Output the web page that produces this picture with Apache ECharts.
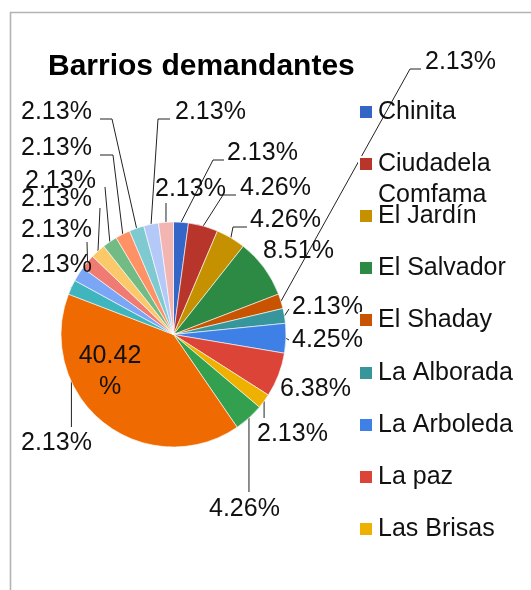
<!DOCTYPE html>
<html>
<head>
<meta charset="utf-8">
<title>Barrios demandantes</title>
<script src="https://cdn.jsdelivr.net/npm/echarts@6/dist/echarts.min.js"></script>
<style>
  html, body { margin: 0; padding: 0; background: #fff; }
  #chart { width: 531px; height: 590px; }
</style>
</head>
<body>
<div id="chart"></div>
<script>
// datos (porcentajes tal como aparecen en las etiquetas)
const barrios = ['Chinita', 'Ciudadela Comfama', 'El Jardín', 'El Salvador', 'El Shaday', 'La Alborada',
  'La Arboleda', 'La paz', 'Las Brisas', 'Barrio 10', 'Barrio 11', 'Barrio 12', 'Barrio 13', 'Barrio 14',
  'Barrio 15', 'Barrio 16', 'Barrio 17', 'Barrio 18', 'Barrio 19', 'Barrio 20']
const porcentajes = [2.13, 4.26, 4.26, 8.51, 2.13, 2.13, 4.25, 6.38, 2.13, 4.26,
  40.42, 2.13, 2.13, 2.13, 2.13, 2.13, 2.13, 2.13, 2.13, 2.13]
// solo se ven las primeras entradas de la leyenda (el resto queda cortado)
const leyendaVisible = barrios.slice(0, 9)

const colores = ['#3366c6', '#b7352b', '#c69100', '#2d8a45', '#c85300', '#36969b', '#3f80e6', '#db4437',
  '#efb100', '#33a04f', '#ef6a00', '#40b5bd', '#7ba6f6', '#ef7b73', '#fcc96a', '#72bb85', '#ff9166',
  '#7fc9d1', '#b5c9f8', '#f3b5b1']

const FUENTE = "'Liberation Sans', Arial, sans-serif"
const CX = 173.5
const CY = 334.5
const R = 112.5

// colocación de las etiquetas (x izquierda, y centro) y codos de las líneas guía
// null en el codo = misma x que el borde de la porción
const etiquetas = [
  { x: 227, y: 153, codos: [[213, 160], [224, 160]] },
  { x: 240, y: 188, codos: [[223, 195], [236, 195]] },
  { x: 250, y: 220, codos: [[233, 227], [247, 227]] },
  { x: 263, y: 251 },
  { x: 425, y: 62, codos: [[410, 69], [421, 69]] },
  { x: 292, y: 307, codos: [[289, 309]] },
  { x: 292, y: 340, codos: [[289, 340]] },
  { x: 280, y: 389 },
  { x: 257, y: 434, codos: [[null, 418]] },
  { x: 209, y: 509, codos: [[null, 492]] },
  { x: 110, y: 372, align: 'center' },
  { x: 21, y: 443, codos: [[null, 427]] },
  { x: 21, y: 265 },
  { x: 21, y: 230, codos: [[87, 242]] },
  { x: 21, y: 199, codos: [[100, 208]] },
  { x: 25, y: 181, codos: [[105, 187]] },
  { x: 21, y: 148, codos: [[113, 155], [100, 155]] },
  { x: 21, y: 112, codos: [[112, 119], [100, 119]] },
  { x: 175, y: 112, codos: [[158, 119], [170, 119]] },
  { x: 155, y: 189, codos: [[166, 203]] }
]
// centro vertical de cada fila de la leyenda
const filasLeyenda = [112, 164, 216, 268, 320, 373, 425, 477, 529]

const total = porcentajes.reduce((a, b) => a + b, 0)
const bordes = porcentajes.map((v, i) => {
  const antes = porcentajes.slice(0, i).reduce((a, b) => a + b, 0)
  const ang = (antes + v / 2) / total * 2 * Math.PI
  return [CX + R * Math.sin(ang), CY - R * Math.cos(ang)]
})
const mayor = porcentajes.indexOf(Math.max(...porcentajes))

const myChart = echarts.init(document.getElementById('chart'), null, { renderer: 'canvas' })

const textoLeyenda = {
  fontSize: 25,
  color: '#111',
  fontFamily: FUENTE
}

const option = {
  animation: false,
  color: colores,
  title: {
    text: 'Barrios demandantes',
    left: 43,
    top: 47,
    textStyle: {
      fontSize: 30,
      fontWeight: 'bold',
      color: '#000',
      fontFamily: FUENTE
    }
  },
  graphic: [{
    type: 'rect',
    shape: { x: 10.5, y: 12.5, width: 1000, height: 1000 },
    style: { fill: 'none', stroke: '#b3b3b3', lineWidth: 1.6 },
    silent: true
  }],
  legend: leyendaVisible.map((nombre, i) => {
    // el nombre largo ocupa dos líneas y se monta sobre la fila siguiente
    const dosLineas = nombre === 'Ciudadela Comfama'
    return {
      data: [nombre],
      orient: 'vertical',
      left: 353,
      top: dosLineas ? filasLeyenda[i] - 51.5 : filasLeyenda[i] - 17.5,
      icon: 'rect',
      itemWidth: 14,
      itemHeight: 14,
      itemGap: 0,
      formatter: (n) => dosLineas ? '\nCiudadela\nComfama' : n,
      textStyle: dosLineas ? Object.assign({ lineHeight: 31 }, textoLeyenda) : textoLeyenda
    }
  }),
  series: [{
    type: 'pie',
    center: [CX, CY],
    radius: R,
    startAngle: 90,
    clockwise: true,
    avoidLabelOverlap: false,
    itemStyle: {
      borderColor: '#ffffff',
      borderWidth: 0.6
    },
    emphasis: { scale: false },
    label: {
      show: true,
      position: 'outside',
      fontSize: 25,
      lineHeight: 31,
      color: '#111',
      fontFamily: FUENTE,
      formatter: (p) => p.value.toFixed(2) + (p.dataIndex === mayor ? '\n%' : '%')
    },
    labelLine: {
      show: true,
      lineStyle: { color: '#222', width: 1 }
    },
    labelLayout: (p) => {
      const e = etiquetas[p.dataIndex]
      const b = bordes[p.dataIndex]
      const pts = [b].concat((e.codos || []).map((q) => [q[0] == null ? b[0] : q[0], q[1]]))
      while (pts.length < 3) pts.push(pts[pts.length - 1])
      return {
        x: e.x,
        y: e.y,
        align: e.align || 'left',
        verticalAlign: 'middle',
        labelLinePoints: pts
      }
    },
    data: barrios.map((nombre, i) => ({
      name: nombre,
      value: porcentajes[i],
      label: i === mayor ? { position: 'inside' } : undefined
    }))
  }]
}

myChart.setOption(option)
window.addEventListener('resize', () => myChart.resize())
</script>
</body>
</html>
